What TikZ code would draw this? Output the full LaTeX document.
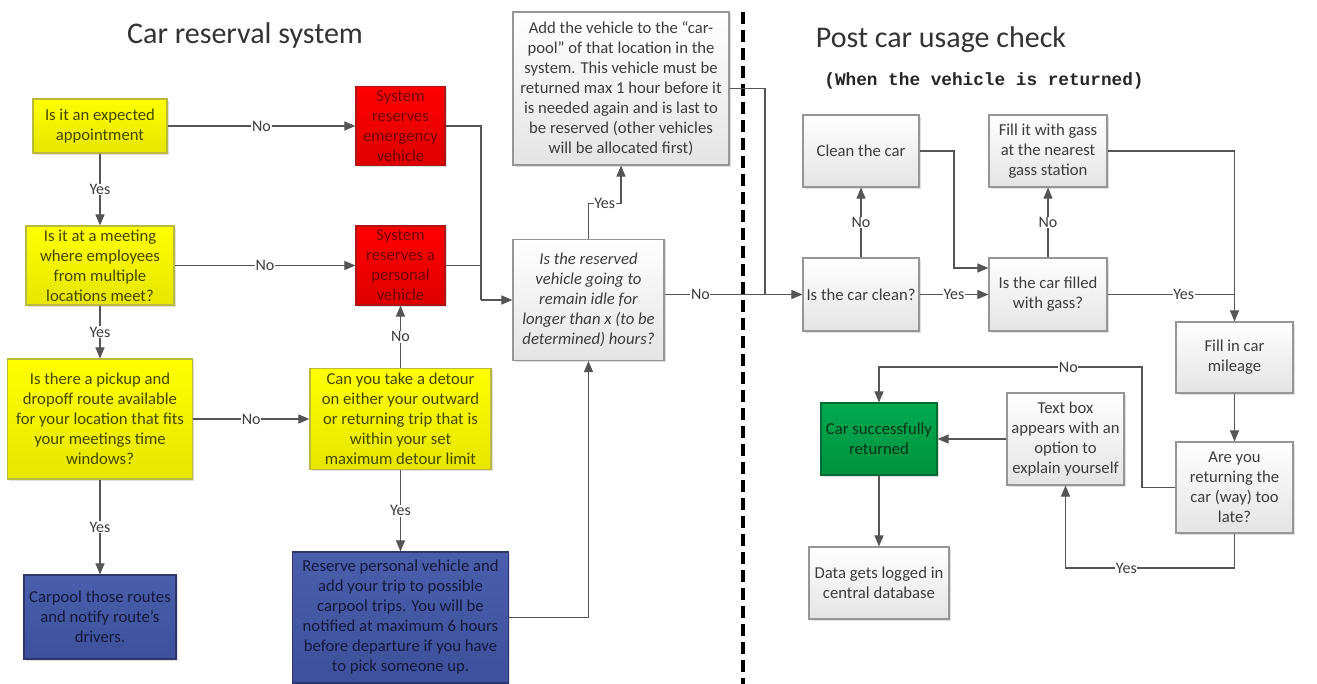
\documentclass[tikz,border=0pt]{standalone}
\usepackage{fontspec}
\setmainfont{Carlito}
\newfontfamily\codefont{Liberation Mono}
\usepackage{tikz}
\usetikzlibrary{arrows, shapes, positioning, shadows, calc}

\definecolor{ytop}{RGB}{255,255,0}
\definecolor{ybot}{RGB}{230,230,0}
\definecolor{yedge}{RGB}{185,185,60}
\definecolor{ytext}{RGB}{70,70,0}
\definecolor{rtop}{RGB}{255,0,0}
\definecolor{rbot}{RGB}{222,0,0}
\definecolor{redge}{RGB}{175,20,20}
\definecolor{rtext}{RGB}{115,0,0}
\definecolor{btop}{RGB}{74,94,172}
\definecolor{bbot}{RGB}{62,80,155}
\definecolor{bedge}{RGB}{45,55,110}
\definecolor{btext}{RGB}{20,25,60}
\definecolor{gtop}{RGB}{0,170,80}
\definecolor{gbot}{RGB}{0,145,62}
\definecolor{gedge}{RGB}{0,110,50}
\definecolor{gtext}{RGB}{10,50,20}
\definecolor{wbot}{RGB}{228,228,228}
\definecolor{wedge}{RGB}{150,150,150}
\definecolor{wtext}{RGB}{60,60,60}
\definecolor{flow}{RGB}{85,85,85}

\newcommand{\cellfont}{\fontsize{12.5}{15}\selectfont}

\tikzstyle{ybox} = [top color=ytop, bottom color=ybot, draw=yedge, text=ytext]
\tikzstyle{rbox} = [top color=rtop, bottom color=rbot, draw=redge, text=rtext, inner ysep=0pt]
\tikzstyle{bbox} = [top color=btop, bottom color=bbot, draw=bedge, text=btext]
\tikzstyle{gbox} = [top color=gtop, bottom color=gbot, draw=gedge, text=gtext]
\tikzstyle{wbox} = [top color=white, bottom color=wbot, draw=wedge, text=wtext]

\begin{document}
\begin{tikzpicture}[x=0.75pt, y=-0.75pt, >=triangle 45, line width=0.9pt]

\tikzset{cell/.style 2 args={rectangle, align=center, minimum width=#1*0.75pt, minimum height=#2*0.75pt, inner sep=2pt, font=\cellfont, drop shadow={opacity=0.25, shadow xshift=1.2pt, shadow yshift=-1.2pt}}}
\tikzset{lbl/.style={fill=white, inner sep=0.5pt, text=wtext, font=\fontsize{12}{14}\selectfont}}
\tikzset{title/.style={text=black!80, font=\fontsize{22.5}{26}\selectfont}}

\fill[white] (0,0) rectangle (1317,684);
\useasboundingbox (0,0) rectangle (1317,684);

% The divider
\draw[line width=3pt, dash pattern=on 9pt off 4.5pt] (743,12) -- (743,684);

% Left part - reservation
\node[title] (restitle) at (245,36) {Car reserval system};

\node[cell={134}{54}, ybox] (expected) at (100,126) {Is it an expected\\appointment};
\node[cell={148}{79}, ybox] (meeting) at (100,265.5) {Is it at a meeting\\where employees\\from multiple\\locations meet?};
\node[cell={185}{120}, ybox] (pickup) at (100,419) {Is there a pickup and\\dropoff route available\\for your location that fits\\your meetings time\\windows?};
\node[cell={152}{84}, bbox] (carpool) at (100,617) {Carpool those routes\\and notify route’s\\drivers.};

\node[cell={89}{79}, rbox] (emerg) at (400.5,126) {System\\reserves\\emergency\\vehicle};
\node[cell={89}{79}, rbox] (personal) at (400.5,265.5) {System\\reserves a\\personal\\vehicle};
\node[cell={181}{101}, ybox] (detour) at (400.5,419) {Can you take a detour\\on either your outward\\or returning trip that is\\within your set\\maximum detour limit};
\node[cell={216}{131}, bbox] (reserve) at (400.5,617.5) {Reserve personal vehicle and\\add your trip to possible\\carpool trips. You will be\\notified at maximum 6 hours\\before departure if you have\\to pick someone up.};

\node[cell={151}{121}, wbox, font=\cellfont\itshape] (idle) at (588.5,300) {Is the reserved\\vehicle going to\\remain idle for\\longer than x (to be\\determined) hours?};
\node[cell={216}{153}, wbox] (addcar) at (621,88.5) {Add the vehicle to the “car-\\pool” of that location in the\\system. This vehicle must be\\returned max 1 hour before it\\is needed again and is last to\\be reserved (other vehicles\\will be allocated first)};

\draw[->, flow] (expected) -- node[lbl]{No} (expected -| emerg.west);
\draw[->, flow] (expected) -- node[lbl]{Yes} (meeting);
\draw[->, flow] (meeting) -- node[lbl]{No} (personal);
\draw[->, flow] (meeting) -- node[lbl]{Yes} (pickup);
\draw[->, flow] (pickup) -- node[lbl]{No} (detour);
\draw[->, flow] (pickup) -- node[lbl]{Yes} (carpool);
\draw[->, flow] (detour) -- node[lbl]{No} (personal);
\draw[->, flow] (detour) -- node[lbl]{Yes} (reserve);

\coordinate (merge) at (481,300);
\draw[flow] (emerg.east) -| (merge);
\draw[flow] (personal.east) -| (merge);
\draw[->, flow] (merge) -- (merge -| idle.west);
\draw[->, flow] (reserve.east) -| (idle.south);
\draw[->, flow] (idle.north) -- ++(0,-35) -- node[lbl]{Yes} ++(32.5,0) -- (addcar.south);

% Right part - usage check
\node[title] (chktitle) at (941,40) {Post car usage check};
\node[text=black!85, font=\codefont\bfseries\fontsize{13.3}{15}\selectfont] (chksub) at (984,81) {(When the vehicle is returned)};

\node[cell={116}{72}, wbox] (clean) at (861,151) {Clean the car};
\node[cell={116}{73}, wbox] (isclean) at (861,294.5) {Is the car clean?};
\node[cell={118}{72}, wbox] (gas) at (1048,151) {Fill it with gass\\at the nearest\\gass station};
\node[cell={118}{73}, wbox] (isfilled) at (1048,294.5) {Is the car filled\\with gass?};
\node[cell={117}{71}, wbox] (mileage) at (1234.5,357.5) {Fill in car\\mileage};
\node[cell={117}{91}, wbox] (late) at (1234.5,487.5) {Are you\\returning the\\car (way) too\\late?};
\node[cell={117}{92}, wbox] (textbox) at (1065.5,439) {Text box\\appears with an\\option to\\explain yourself};
\node[cell={116}{72}, gbox] (done) at (879,439) {Car successfully\\returned};
\node[cell={140}{72}, wbox] (logged) at (879,583) {Data gets logged in\\central database};

\coordinate (join) at (765,294.5);
\draw[flow] (addcar.east) -| (join);
\draw[->, flow] (idle.east |- isclean.west) -- node[lbl, pos=0.26]{No} (isclean.west);

\draw[->, flow] (isclean) -- node[lbl]{No} (clean);
\draw[->, flow] (isclean) -- node[lbl]{Yes} (isfilled);
\coordinate (cleanback) at (954,268);
\draw[->, flow] (clean.east) -| (cleanback) -- (cleanback -| isfilled.west);
\draw[->, flow] (isfilled) -- node[lbl]{No} (gas);
\draw[->, flow] (gas.east) -| (mileage.north);
\draw[flow] (isfilled.east) -- node[lbl, pos=0.6]{Yes} (isfilled.east -| mileage.north);
\draw[->, flow] (mileage) -- (late);

\coordinate (lateno) at (1142,367);
\draw[->, flow] (late.west) -| (lateno) -- node[lbl, pos=0.28]{No} (lateno -| done.north) -- (done.north);
\coordinate (lateyes) at (1234.5,568);
\draw[->, flow] (late.south) -- (lateyes) -- node[lbl, pos=0.64]{Yes} (lateyes -| textbox.south) -- (textbox.south);
\draw[->, flow] (textbox) -- (done);
\draw[->, flow] (done) -- (logged);

\end{tikzpicture}
\end{document}
